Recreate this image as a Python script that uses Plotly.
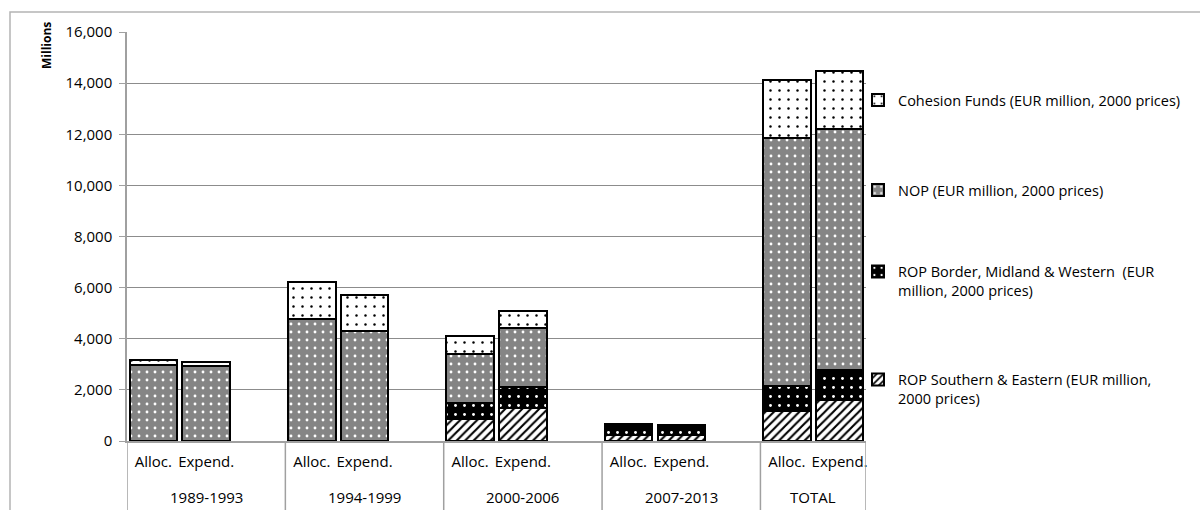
import plotly.graph_objects as go

# Programming periods (outer category level) and bar kinds (inner level)
periods = ["1989-1993", "1994-1999", "2000-2006", "2007-2013", "TOTAL"]
bar_kinds = ["Alloc.", "Expend."]

# EUR million, 2000 prices — allocations and expenditure per period
rop_se_alloc = [0, 0, 870, 240, 1170]
rop_se_expend = [0, 0, 1300, 250, 1600]
rop_bmw_alloc = [0, 0, 610, 440, 1000]
rop_bmw_expend = [0, 0, 830, 360, 1180]
nop_alloc = [2960, 4780, 1925, 0, 9700]
nop_expend = [2920, 4285, 2290, 0, 9430]
cohesion_alloc = [195, 1450, 685, 0, 2270]
cohesion_expend = [170, 1430, 675, 0, 2270]

series_names = [
    "ROP Southern & Eastern (EUR million,<br>2000 prices)",
    "ROP Border, Midland & Western  (EUR<br>million, 2000 prices)",
    "NOP (EUR million, 2000 prices)",
    "Cohesion Funds (EUR million, 2000 prices)",
]

y_ticks = [0, 2000, 4000, 6000, 8000, 10000, 12000, 14000, 16000]

FONT = "Open Sans"
FSIZE = 15
LEG_SIZE = 14.5
GRID = "#8c8c8c"
AXIS = "#a0a0a0"

# Each period takes three slots (Alloc., Expend., gap); the last one has no gap
slots_per_period = 3
x_pos = []
x_lab = []
for i, _ in enumerate(periods):
    for j, kind in enumerate(bar_kinds):
        x_pos.append(i * slots_per_period + j)
        x_lab.append(kind)
n_slots = len(periods) * slots_per_period - 1


def interleave(a, b):
    out = []
    for u, v in zip(a, b):
        out += [u, v]
    return out


series_vals = [
    interleave(rop_se_alloc, rop_se_expend),
    interleave(rop_bmw_alloc, rop_bmw_expend),
    interleave(nop_alloc, nop_expend),
    interleave(cohesion_alloc, cohesion_expend),
]

patterns = [
    dict(shape="/", fgcolor="black", bgcolor="white", size=6, solidity=0.35),
    dict(shape=".", fgcolor="white", bgcolor="black", size=9, solidity=0.08),
    dict(shape=".", fgcolor="white", bgcolor="#858585", size=8, solidity=0.1),
    dict(shape=".", fgcolor="black", bgcolor="white", size=9, solidity=0.06),
]
legend_ids = ["legend4", "legend3", "legend2", "legend"]

fig = go.Figure()
for name, vals, pat, lg in zip(series_names, series_vals, patterns, legend_ids):
    fig.add_trace(go.Bar(
        x=x_pos, y=vals, name=name, width=0.9, legend=lg,
        marker=dict(color=pat["bgcolor"], pattern=dict(fillmode="replace", **pat),
                    line=dict(color="black", width=2)),
    ))

# plot-area pixel frame used to place legends and decorations
L, R, T, B = 127, 866, 32, 441
W_PX, H_PX = R - L, B - T


def px_x(px):
    return (px - L) / W_PX


def px_y(py):
    return (B - py) / H_PX


leg_common = dict(font=dict(family=FONT, size=LEG_SIZE, color="black"), bgcolor="rgba(0,0,0,0)",
                  xanchor="left", yanchor="middle", valign="top", itemclick=False)
legend_centers = {"legend": 100, "legend2": 190, "legend3": 281, "legend4": 389}
legend_layout = {k: dict(x=px_x(858), y=px_y(v), **leg_common) for k, v in legend_centers.items()}

shapes = []
# vertical separators between periods on the category axis
bounds = [-0.5] + [i * slots_per_period + 2.5 for i in range(len(periods) - 1)] + [n_slots - 0.5]
for xb in bounds:
    shapes.append(dict(type="line", xref="x", yref="paper", x0=xb, x1=xb, y0=0, y1=px_y(520),
                       line=dict(color=AXIS, width=1.5)))
# outer chart-area border (left and top edges)
shapes.append(dict(type="path", xref="paper", yref="paper",
                   path=f"M {px_x(10)} {px_y(530)} L {px_x(10)} {px_y(12)} L {px_x(1210)} {px_y(12)}",
                   line=dict(color="#b4b4b4", width=1.5)))

annotations = []
for i, p in enumerate(periods):
    n_in = len(bar_kinds) if i == len(periods) - 1 else slots_per_period
    center = i * slots_per_period + (n_in - 1) / 2
    annotations.append(dict(x=center, y=0, xref="x", yref="paper", text=p, showarrow=False,
                            yanchor="middle", yshift=-56, font=dict(family=FONT, size=FSIZE, color="black")))
annotations.append(dict(x=px_x(46), y=px_y(46), xref="paper", yref="paper", text="<b>Millions</b>",
                        showarrow=False, textangle=-90, xanchor="center", yanchor="middle",
                        font=dict(family=FONT, size=12, color="black")))

fig.update_layout(
    width=1200, height=510,
    margin=dict(l=L, r=1200 - R, t=T, b=510 - B),
    paper_bgcolor="white", plot_bgcolor="white",
    barmode="stack", bargap=0,
    showlegend=True,
    font=dict(family=FONT, size=FSIZE, color="black"),
    xaxis=dict(range=[-0.5, n_slots - 0.5], tickvals=x_pos, ticktext=x_lab, ticks="",
               showgrid=False, zeroline=False, showline=True, linecolor=AXIS, linewidth=1.5,
               tickfont=dict(family=FONT, size=FSIZE, color="black"), ticklabelstandoff=6),
    yaxis=dict(range=[0, 16000], tickvals=y_ticks, tickformat=",", showgrid=True, gridcolor=GRID,
               gridwidth=1, zeroline=False, showline=True, linecolor=AXIS, linewidth=1.5,
               ticks="outside", ticklen=6, tickcolor=AXIS,
               tickfont=dict(family=FONT, size=FSIZE, color="black"), ticklabelstandoff=4),
    shapes=shapes, annotations=annotations,
    **legend_layout,
)

fig.write_html("out.html")
